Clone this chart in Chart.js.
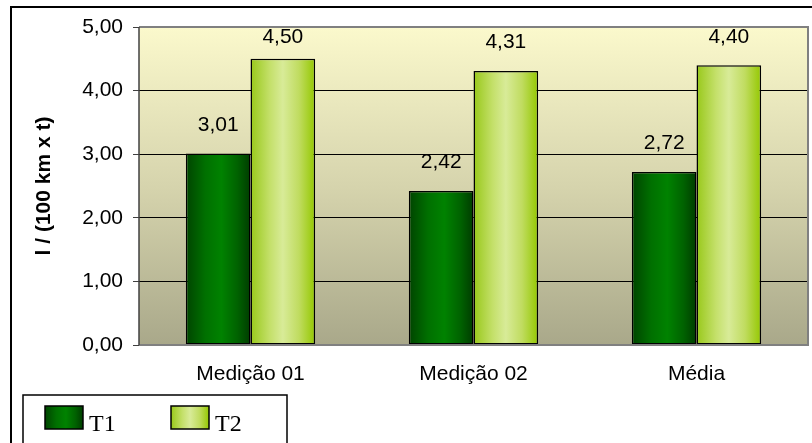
<!DOCTYPE html>
<html>
<head>
<meta charset="utf-8">
<script src="https://cdn.jsdelivr.net/npm/chart.js@4/dist/chart.umd.min.js"></script>
<style>
  html, body { margin: 0; padding: 0; background: #fff; }
  canvas { display: block; }
</style>
</head>
<body>
<canvas id="grafico" width="812" height="443"></canvas>
<script>
const categorias = ['Medição 01', 'Medição 02', 'Média'];
const serieT1 = [3.01, 2.42, 2.72];
const serieT2 = [4.50, 4.31, 4.40];
const nomesSeries = ['T1', 'T2'];
const eixoY = 'l / (100 km x t)';

const fonteSans = "'Liberation Sans', Arial, sans-serif";
const fonteSerif = "'Liberation Serif', 'Times New Roman', serif";

// paradas do degradê horizontal de cada série (efeito cilíndrico)
const paradas = [
    [[0, '#004400'], [0.3, '#007000'], [0.55, '#008200'], [0.8, '#006200'], [1, '#003c00']],
    [[0, '#98c81a'], [0.3, '#c4e06a'], [0.5, '#d8eb98'], [0.75, '#c0dc60'], [1, '#94c800']]
];

const formatar = (v) => v.toFixed(2).replace('.', ',');

const degradeHorizontal = (ctx, x0, x1, serie) => {
    const g = ctx.createLinearGradient(x0, 0, x1, 0);
    paradas[serie].forEach(([p, c]) => g.addColorStop(p, c));
    return g;
};

const fundoPlugin = {
    id: 'fundo',
    beforeDraw(chart) {
        const { ctx, chartArea: a } = chart;
        ctx.save();
        // moldura externa
        ctx.strokeStyle = '#000';
        ctx.lineWidth = 2;
        ctx.strokeRect(11, 7, 900, 600);
        // fundo da área de plotagem
        const g = ctx.createLinearGradient(0, a.top, 0, a.bottom);
        g.addColorStop(0, '#fbf9cc');
        g.addColorStop(0.5, '#d6d4ad');
        g.addColorStop(1, '#a9a88a');
        ctx.fillStyle = g;
        ctx.fillRect(a.left, a.top, a.right - a.left, a.bottom - a.top);
        ctx.restore();
    },
    beforeDatasetsDraw(chart) {
        const { ctx } = chart;
        chart.data.datasets.forEach((ds, i) => {
            chart.getDatasetMeta(i).data.forEach((barra) => {
                const w = barra.width;
                const grad = degradeHorizontal(ctx, barra.x - w / 2, barra.x + w / 2, i);
                barra.options = Object.assign({}, barra.options, { backgroundColor: grad });
            });
        });
    },
    afterDatasetsDraw(chart) {
        const { ctx, chartArea: a } = chart;
        ctx.save();
        // rótulos de valor acima das barras, sem sair da área de plotagem
        ctx.fillStyle = '#000';
        ctx.font = '21px ' + fonteSans;
        ctx.textAlign = 'center';
        ctx.textBaseline = 'alphabetic';
        chart.data.datasets.forEach((ds, i) => {
            chart.getDatasetMeta(i).data.forEach((barra, j) => {
                const y = Math.max(barra.y - 23, a.top + 16);
                ctx.fillText(formatar(ds.data[j]), barra.x, y);
            });
        });
        // borda da área de plotagem
        ctx.strokeStyle = '#808080';
        ctx.lineWidth = 2;
        ctx.beginPath();
        ctx.moveTo(a.left, a.top);
        ctx.lineTo(a.right, a.top);
        ctx.lineTo(a.right, a.bottom);
        ctx.lineTo(a.left, a.bottom);
        ctx.stroke();
        ctx.strokeStyle = '#404040';
        ctx.lineWidth = 1.5;
        ctx.beginPath();
        ctx.moveTo(a.left, a.top);
        ctx.lineTo(a.left, a.bottom);
        ctx.stroke();
        ctx.restore();
    },
    afterDraw(chart) {
        const { ctx } = chart;
        ctx.save();
        // legenda em caixa no canto inferior esquerdo
        ctx.fillStyle = '#fff';
        ctx.fillRect(23, 395, 264, 80);
        ctx.strokeStyle = '#000';
        ctx.lineWidth = 1.5;
        ctx.strokeRect(23, 395, 264, 80);
        const itens = [{ x: 45 }, { x: 171 }];
        itens.forEach((it, i) => {
            ctx.fillStyle = degradeHorizontal(ctx, it.x, it.x + 38, i);
            ctx.fillRect(it.x, 406, 38, 23);
            ctx.strokeStyle = '#000';
            ctx.lineWidth = 1.5;
            ctx.strokeRect(it.x, 406, 38, 23);
            ctx.fillStyle = '#000';
            ctx.font = '24px ' + fonteSerif;
            ctx.textAlign = 'left';
            ctx.textBaseline = 'alphabetic';
            ctx.fillText(chart.data.datasets[i].label, it.x + 44, 431);
        });
        ctx.restore();
    }
};

const ctx = document.getElementById('grafico').getContext('2d');
new Chart(ctx, {
    type: 'bar',
    data: {
        labels: categorias,
        datasets: [
            { label: nomesSeries[0], data: serieT1, backgroundColor: '#007000' },
            { label: nomesSeries[1], data: serieT2, backgroundColor: '#c4e06a' }
        ]
    },
    options: {
        responsive: false,
        animation: false,
        layout: { padding: { top: 27, right: 4, left: 0, bottom: 0 } },
        datasets: {
            bar: {
                categoryPercentage: 0.58,
                barPercentage: 1,
                borderColor: '#000',
                borderWidth: 1.5,
                borderSkipped: false
            }
        },
        plugins: {
            legend: { display: false },
            tooltip: { enabled: false }
        },
        scales: {
            x: {
                grid: { display: false },
                border: { display: false },
                ticks: { color: '#000', padding: 9, font: { family: fonteSans, size: 21 } },
                afterFit: (escala) => { escala.height = 98; }
            },
            y: {
                min: 0,
                max: 5,
                ticks: {
                    stepSize: 1,
                    color: '#000',
                    padding: 10,
                    font: { family: fonteSans, size: 21 },
                    callback: (v) => formatar(v)
                },
                grid: {
                    color: (c) => (c.tick.value === 0 || c.tick.value === 5) ? 'rgba(0,0,0,0)' : '#000',
                    lineWidth: 1,
                    tickColor: '#404040',
                    tickLength: 6
                },
                border: { display: false },
                title: {
                    display: true,
                    text: eixoY,
                    color: '#000',
                    font: { family: fonteSans, size: 21, weight: 'bold' },
                    padding: { top: 32, bottom: 0 }
                },
                afterFit: (escala) => { escala.width = 139; }
            }
        }
    },
    plugins: [fundoPlugin]
});
</script>
</body>
</html>
